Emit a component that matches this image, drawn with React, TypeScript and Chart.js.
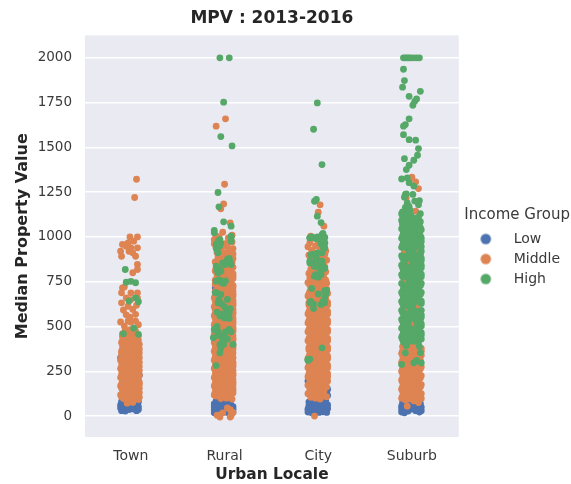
import React, { useEffect, useRef } from "react";
import { Chart, registerables } from "chart.js";

Chart.register(...registerables);

const categories = ["Town", "Rural", "City", "Suburb"];
const yTicks = [0, 250, 500, 750, 1000, 1250, 1500, 1750, 2000];
const FONT = "'DejaVu Sans', sans-serif";

// Each point: [horizontal jitter in hundredths of a category, median property value]
const townLow = [[-10,30],[-6,28],[-2,36],[2,40],[6,30],[8,36],[-11,45],[-8,50],[-4,52],[1,55],[5,50],[8,52],[-11,62],[-7,68],[-3,66],[3,70],[7,66],[-10,80],[-6,85],[5,82],[8,80],[-2,163],[-11,325],[9,228]];
const townMiddle = [[-4,72],[-1,80],[2,76],[-8,98],[-3,95],[3,100],[8,92],[-11,118],[-5,122],[1,115],[6,120],[-8,145],[-2,140],[4,148],[8,142],[-11,168],[-5,165],[1,172],[6,166],[-8,192],[-2,190],[4,195],[9,188],[-11,215],[-5,220],[1,212],[6,218],[-8,242],[-2,238],[4,245],[8,240],[-11,265],[-5,268],[1,262],[6,270],[-8,290],[-2,288],[4,295],[8,288],[-11,312],[-5,318],[1,310],[6,315],[-8,340],[-2,335],[4,342],[8,338],[-10,362],[-5,365],[1,360],[6,368],[-8,388],[-2,385],[4,392],[8,385],[-10,410],[-5,415],[1,408],[6,412],[-8,435],[-2,432],[4,438],[7,432],[-9,458],[-4,462],[1,455],[6,460],[-6,478],[-1,482],[5,475],[-7,502],[8,510],[-3,530],[-11,525],[0,524],[5,530],[-5,565],[-1,552],[5,568],[-8,592],[2,595],[-3,613],[6,618],[-10,632],[-5,660],[0,650],[7,660],[-10,688],[0,688],[7,688],[-9,716],[-7,720],[7,818],[7,846],[2,800],[-10,892],[5,892],[-11,920],[-2,920],[2,911],[-9,958],[-3,967],[3,976],[-5,948],[0,939],[7,939],[-1,1000],[7,1000],[6,1322],[4,1220]];
const townMiddleFill = [[-10,108],[-2,106],[4,110],[9,105],[-9,132],[-4,130],[2,134],[9,130],[-10,156],[-5,154],[0,158],[9,155],[-10,180],[-4,178],[2,182],[9,176],[-9,204],[-3,202],[3,206],[8,204],[-10,230],[-4,228],[2,232],[9,228],[-10,254],[-3,252],[3,256],[9,254],[-10,278],[-4,278],[2,280],[9,276],[-10,302],[-3,302],[3,304],[9,300],[-10,328],[-4,326],[2,328],[9,326],[-10,350],[-3,352],[3,350],[9,352],[-9,376],[-4,374],[2,378],[9,374],[-9,398],[-3,400],[3,398],[9,400],[-9,422],[-4,424],[2,422],[8,424],[-9,446],[-3,448],[3,446],[8,448]];
const townHigh = [[-6,818],[-5,747],[0,752],[5,744],[-2,642],[5,660],[8,638],[3,490],[8,456],[-8,460]];

const ruralLow = [[-11,18],[-8,15],[-5,20],[-1,22],[3,20],[7,15],[9,22],[-11,35],[-7,38],[-3,42],[1,36],[5,40],[9,38],[-11,52],[-7,56],[-2,58],[3,55],[7,58],[9,52],[-11,68],[-7,72],[-3,74],[2,72],[6,70],[-9,85],[-4,82],[5,84],[-10,716],[7,334]];
const ruralMiddle = [[-5,-6],[6,-6],[-8,5],[7,3],[-2,18],[-5,5],[3,45],[6,35],[9,20],[-9,112],[-4,98],[2,100],[8,95],[-11,118],[-6,125],[0,120],[6,122],[-8,145],[-3,140],[3,148],[9,142],[-11,168],[-5,165],[1,172],[6,166],[-8,192],[-2,190],[4,195],[9,188],[-11,215],[-5,220],[1,212],[6,218],[-8,242],[-2,238],[4,245],[9,240],[-11,265],[-5,268],[1,262],[6,270],[-8,290],[-2,288],[4,295],[9,288],[-11,312],[-5,318],[1,310],[6,315],[-8,340],[-2,335],[4,342],[9,352],[-11,362],[-5,365],[1,360],[6,368],[-8,388],[-2,385],[4,392],[9,385],[-11,410],[-5,415],[1,408],[6,412],[-8,435],[-2,432],[4,438],[9,432],[-11,458],[-5,462],[1,455],[6,460],[-8,485],[-2,482],[4,488],[9,485],[-11,510],[-5,508],[1,512],[6,505],[-8,535],[-2,532],[4,538],[9,530],[-11,560],[-5,558],[1,562],[6,555],[-8,585],[-2,582],[4,588],[9,580],[-11,610],[-5,608],[1,612],[6,605],[-8,635],[-2,632],[4,638],[9,630],[-11,660],[-5,658],[1,662],[6,655],[-8,685],[-2,682],[4,688],[9,680],[-5,708],[1,712],[6,705],[-10,735],[-2,732],[4,738],[9,730],[-10,758],[-5,760],[1,762],[7,755],[-8,785],[-2,782],[4,788],[9,780],[-10,810],[-4,808],[2,812],[7,805],[-1,835],[4,838],[9,830],[-10,860],[2,862],[8,858],[-7,885],[-1,882],[4,888],[9,880],[-8,912],[1,910],[7,908],[-9,938],[-3,940],[3,945],[9,935],[-11,962],[-5,965],[8,972],[-9,985],[-2,1026],[-9,1004],[4,995],[8,1010],[6,1078],[-1,1184],[-4,1157],[0,1294],[1,1659],[-9,1618]];
const ruralMiddleFill = [[-10,132],[-4,130],[2,134],[9,128],[-10,156],[-4,154],[3,158],[9,156],[-10,180],[-3,178],[3,182],[9,176],[-10,204],[-3,202],[3,206],[9,204],[-10,230],[-4,228],[2,232],[9,228],[-10,254],[-3,252],[3,256],[9,254],[-10,278],[-4,278],[2,280],[9,276],[-10,302],[-3,302],[3,304],[9,300],[-10,328],[-4,326],[2,328],[9,326],[-10,350],[-3,352],[3,350],[7,356],[-10,376],[-4,374],[2,378],[9,374],[-10,398],[-3,400],[3,398],[9,400],[-10,422],[-4,424],[2,422],[9,424],[-10,446],[-3,448],[3,446],[9,448],[-10,472],[-4,470],[2,474],[9,472],[-10,496],[-3,498],[3,496],[9,498],[-10,520],[-4,522],[2,520],[9,518],[-10,546],[-3,548],[3,546],[9,546],[-10,572],[-4,570],[2,574],[9,570],[-10,596],[-3,598],[3,596],[9,596],[-10,622],[-4,620],[2,622],[9,618],[-10,646],[-3,648],[3,646],[9,646],[-10,672],[-4,670],[2,672],[9,668],[-10,696],[-3,698],[3,696],[9,696],[-7,722],[-3,720],[3,722],[9,718],[-7,748],[4,750],[-6,772],[3,770],[9,768],[-8,798],[-2,796],[4,800],[9,795],[-9,825],[-5,828],[6,822],[-6,848],[-3,852],[5,850],[-4,872],[5,872],[-5,900],[4,898],[9,905],[-5,925],[5,922],[0,960],[3,968],[-6,1000],[-11,985]];
const ruralHigh = [[-5,2000],[5,2000],[-1,1752],[-4,1560],[8,1508],[-7,1248],[-6,1168],[-1,1084],[-11,1036],[7,1060],[7,1004],[-5,985],[-11,1023],[7,1000],[-9,958],[-4,967],[7,976],[-7,911],[4,874],[-2,855],[7,846],[-9,837],[-4,809],[-9,753],[-2,753],[-10,688],[-4,679],[3,651],[-7,632],[5,576],[0,548],[-5,558],[-11,483],[-7,474],[5,483],[-12,437],[0,437],[-5,400],[9,400],[-5,353],[-9,282],[-9,940],[-7,975],[-5,950],[-8,925],[3,875],[6,860],[0,845],[5,880],[-8,815],[-7,800],[-6,820],[-6,760],[-3,745],[-1,740],[1,755],[-9,690],[-6,650],[-3,625],[0,610],[3,590],[6,600],[-8,580],[-2,570],[2,560],[5,545],[-10,480],[-8,500],[-7,450],[-4,450],[-2,420],[3,430],[-1,400],[-4,380],[1,470],[7,470]];

const cityLow = [[-11,22],[-7,18],[-3,24],[1,20],[5,24],[9,20],[-11,38],[-6,42],[-2,38],[3,42],[7,38],[10,42],[-10,58],[-6,62],[-1,58],[4,60],[8,58],[10,62],[-10,78],[-5,82],[0,78],[4,80],[8,85],[7,102],[10,115],[10,150],[-11,195],[6,95],[9,135]];
const cityMiddle = [[-4,0],[-8,105],[-3,100],[2,95],[-11,125],[-6,122],[0,118],[-3,145],[3,135],[-9,148],[-6,170],[-11,172],[0,165],[5,160],[-3,195],[3,190],[8,185],[-9,198],[-11,220],[-6,222],[0,218],[6,215],[10,220],[-9,248],[-3,245],[3,242],[8,245],[-11,270],[-6,268],[0,272],[6,265],[10,270],[-9,295],[-3,292],[3,298],[8,292],[-11,320],[-6,318],[0,322],[6,315],[10,320],[-9,345],[-3,342],[3,348],[8,342],[-10,370],[-6,368],[0,372],[6,365],[10,370],[-9,395],[-3,392],[3,398],[8,392],[-11,420],[-6,418],[0,422],[6,415],[10,420],[-9,445],[-3,442],[3,448],[8,442],[-11,470],[-6,468],[0,472],[6,465],[10,470],[-9,495],[-3,492],[3,498],[8,492],[-11,520],[-6,518],[0,522],[6,515],[10,520],[-9,545],[-3,542],[3,548],[8,542],[-11,570],[-6,568],[0,572],[6,565],[10,570],[-9,595],[-3,592],[3,598],[8,592],[-10,620],[-6,618],[0,622],[6,615],[10,620],[-9,645],[-3,642],[3,648],[8,642],[-11,670],[-5,668],[1,672],[7,665],[-9,695],[-3,692],[3,698],[9,692],[-6,718],[0,722],[7,715],[-11,745],[-3,742],[3,748],[9,742],[-9,770],[-1,768],[6,772],[-10,796],[-4,792],[3,798],[8,805],[-8,820],[0,815],[7,832],[-5,852],[3,848],[-8,875],[0,878],[9,870],[-10,898],[-2,902],[5,895],[-7,925],[2,928],[8,922],[-11,945],[-3,950],[5,948],[-9,968],[0,972],[7,965],[-8,1004],[4,1004],[2,1179],[0,1138],[6,1060]];
const cityMiddleFill = [[5,112],[9,108],[-7,110],[-1,112],[-8,135],[0,140],[6,138],[9,162],[2,152],[-2,168],[-7,185],[0,182],[5,178],[10,195],[-8,208],[-3,208],[3,205],[8,205],[-10,235],[-5,232],[0,232],[6,230],[10,236],[-8,258],[-2,258],[3,256],[8,258],[-10,282],[-5,282],[0,284],[6,280],[10,284],[-8,308],[-3,306],[3,308],[8,306],[-10,332],[-5,332],[0,334],[6,330],[10,334],[-8,358],[-3,356],[3,358],[8,356],[-10,382],[-5,382],[0,384],[6,380],[10,384],[-8,408],[-3,406],[3,408],[8,406],[-10,432],[-5,432],[0,434],[6,430],[10,434],[-8,458],[-3,456],[3,458],[8,456],[-10,482],[-5,482],[0,484],[6,480],[10,484],[-8,508],[-3,506],[3,508],[8,506],[-10,532],[-5,532],[0,534],[6,530],[10,534],[-8,558],[-3,556],[3,558],[8,556],[-10,582],[-5,582],[0,584],[6,580],[10,584],[-8,608],[-3,606],[3,608],[8,606],[-10,632],[-5,632],[0,634],[6,630],[10,634],[-8,658],[-3,656],[3,658],[8,656],[-10,682],[-5,682],[0,684],[6,680],[10,684],[-8,708],[-3,706],[3,708],[9,708],[-9,732],[-5,730],[1,734],[6,730],[-6,758],[2,758],[8,758],[-7,782],[-2,780],[4,784],[-6,808],[1,806],[3,825],[-3,838],[6,858],[-4,885],[3,880],[-5,912],[7,902]];
const cityHigh = [[-1,1748],[-5,1601],[4,1404],[-2,1209],[-4,1199],[-1,1116],[3,1080],[5,1019],[-9,995],[-3,991],[1,985],[-9,995],[-4,995],[4,1013],[7,997],[7,967],[7,939],[-1,911],[-6,902],[4,911],[-9,865],[4,865],[-9,855],[5,837],[7,825],[-3,790],[3,790],[-7,712],[0,682],[9,701],[7,632],[3,623],[-9,632],[-5,600],[4,381],[-11,316],[-9,318],[-11,310],[-7,1000],[-1,1000],[3,960],[5,945],[-2,880],[0,868],[2,860],[-8,900],[-6,855],[-4,835],[0,830],[3,810],[-4,780],[0,775],[7,700],[8,680],[5,640],[-8,640],[-5,625],[7,660]];

const suburbLow = [[-11,22],[-8,18],[-4,28],[0,40],[4,30],[8,22],[10,30],[-11,40],[-8,35],[-5,45],[-2,62],[2,58],[6,55],[10,50],[-11,55],[-8,55],[-6,72],[-10,75],[-9,124],[1,45],[-3,82],[9,70],[5,95]];
const suburbMiddle = [[-5,55],[-7,90],[-3,95],[2,85],[7,75],[-11,100],[-5,112],[2,108],[8,100],[10,98],[-8,125],[-2,128],[4,130],[10,125],[-11,150],[-5,152],[1,148],[7,155],[-8,175],[-2,178],[4,172],[10,175],[-11,200],[-5,202],[1,198],[7,205],[-8,225],[-2,228],[4,222],[10,225],[-11,250],[-5,252],[1,248],[7,255],[-8,275],[-2,278],[4,272],[10,275],[-11,300],[-5,302],[1,298],[7,305],[-8,325],[-2,328],[4,322],[10,340],[-11,350],[-5,352],[1,348],[7,345],[-8,375],[-2,378],[4,372],[-6,400],[0,402],[5,398],[-3,422],[3,420],[-8,920],[6,920],[-4,850],[-8,744],[-5,590],[5,610],[1,510],[-8,750],[-5,455],[0,470],[0,1333],[4,1307],[7,1270],[-6,1218],[4,1144]];
const suburbMiddleFill = [[-10,112],[-2,110],[5,114],[-10,138],[-5,136],[1,134],[7,138],[-10,162],[-4,164],[3,160],[9,162],[-10,188],[-5,186],[1,188],[7,190],[-10,212],[-4,214],[3,210],[9,212],[-10,238],[-5,238],[1,236],[7,240],[-10,262],[-4,264],[3,260],[9,262],[-10,288],[-5,288],[1,286],[7,290],[-10,312],[-4,314],[3,310],[9,312],[-10,338],[-5,338],[1,336],[7,330],[-10,364],[-4,364],[3,360],[10,362],[-10,388],[-3,390],[3,386],[10,378]];
const suburbHigh = [[-9,2000],[-7,2000],[-5,2000],[-3,2000],[-1,2000],[2,2000],[5,2000],[8,2000],[-9,1936],[-8,1873],[-10,1836],[9,1813],[-3,1785],[5,1770],[3,1757],[1,1735],[-3,1659],[-7,1627],[-9,1618],[-9,1571],[-3,1543],[4,1540],[7,1493],[6,1456],[2,1428],[-8,1437],[-3,1400],[-6,1376],[-11,1324],[-5,1330],[-3,1303],[2,1284],[-7,1237],[-8,1222],[1,1237],[8,1203],[-6,1240],[3,1200],[-5,1190],[7,1180],[-7,1165],[-3,1170],[-10,1140],[-6,1140],[-2,1150],[9,1130],[-10,1118],[-6,1115],[-1,1120],[3,1105],[7,1110],[-11,1092],[-7,1090],[-3,1095],[1,1085],[5,1090],[9,1085],[-10,1068],[-6,1065],[-2,1070],[3,1062],[8,1060],[-11,1045],[-7,1040],[-3,1045],[1,1040],[6,1035],[10,1040],[-9,1018],[-4,1015],[2,1015],[8,1018],[-11,992],[-6,990],[-1,992],[5,988],[10,994],[-9,968],[-3,965],[2,968],[7,965],[-11,942],[-6,940],[0,945],[3,940],[10,945],[-3,918],[1,915],[10,920],[-11,895],[-6,892],[-1,895],[3,890],[9,895],[-8,868],[0,870],[4,865],[10,868],[-11,842],[-7,840],[0,838],[5,835],[10,842],[-9,815],[-4,812],[2,815],[7,812],[-11,790],[-7,788],[-1,790],[4,788],[10,792],[-3,765],[2,762],[7,768],[-11,740],[-3,738],[0,742],[5,738],[10,740],[-9,715],[-4,712],[2,715],[7,712],[-11,690],[-7,688],[-1,692],[4,690],[10,690],[-9,665],[-3,662],[2,665],[7,668],[-11,640],[-6,638],[-1,642],[4,640],[10,642],[-9,615],[-3,612],[1,618],[-11,590],[-8,575],[-1,592],[4,585],[10,590],[-6,565],[1,568],[6,565],[10,565],[-11,540],[-7,538],[-2,542],[4,538],[8,542],[-9,515],[-4,512],[6,515],[10,515],[-11,490],[-6,488],[-1,485],[3,488],[8,490],[-9,465],[-3,462],[5,465],[10,465],[-11,440],[-7,438],[0,440],[4,442],[8,438],[-9,412],[-4,415],[2,418],[7,412],[-7,353],[9,353],[2,297],[-11,288],[10,297],[5,310],[-6,392],[8,388]];
const suburbHighFill = [[-11,1130],[-3,1130],[1,1100],[-4,1080],[-10,1078],[7,1078],[-9,1055],[-4,1056],[1,1052],[5,1060],[9,1052],[-9,1030],[-5,1028],[-1,1028],[4,1028],[8,1030],[-10,1005],[-6,1004],[0,1004],[5,1002],[9,1006],[-9,980],[-3,978],[2,980],[8,978],[10,975],[-10,955],[-5,954],[-1,956],[4,954],[8,955],[-1,930],[-2,906],[2,905],[9,908],[-10,882],[-6,880],[0,882],[5,880],[10,882],[-9,855],[4,862],[8,855],[-10,828],[-6,828],[0,826],[5,826],[10,828],[-9,802],[-4,800],[2,802],[7,800],[-10,778],[-5,776],[0,778],[5,776],[10,778],[-2,752],[3,750],[8,752],[-5,728],[0,726],[5,728],[9,728],[-9,702],[-4,702],[2,702],[7,702],[-10,678],[-6,676],[0,678],[5,676],[9,678],[-9,652],[-4,652],[1,652],[7,652],[-10,628],[-6,626],[0,628],[10,628],[0,604],[-10,578],[0,580],[5,578],[9,578],[-9,552],[-4,552],[1,552],[6,552],[10,552],[-10,528],[-6,526],[5,528],[9,528],[-9,502],[-4,500],[10,502],[-9,478],[-5,476],[0,472],[4,476],[8,476],[-10,452],[-6,450],[0,452],[4,452],[10,452],[-10,428],[-4,428],[2,430],[6,428],[10,430]];

const colors = ["#4C72B0", "#DD8452", "#55A868"];
const incomeGroups = ["Low", "Middle", "High"];
const seriesByIncome = [
  [townLow, ruralLow, cityLow, suburbLow],
  [
    [...townMiddle, ...townMiddleFill],
    [...ruralMiddle, ...ruralMiddleFill],
    [...cityMiddle, ...cityMiddleFill],
    [...suburbMiddle, ...suburbMiddleFill],
  ],
  [townHigh, ruralHigh, cityHigh, [...suburbHigh, ...suburbHighFill]],
];

const dot = (color: string) => {
  const c = document.createElement("canvas");
  c.width = 13;
  c.height = 13;
  const g = c.getContext("2d")!;
  g.fillStyle = color;
  g.beginPath();
  g.arc(6.5, 6.5, 5.2, 0, Math.PI * 2);
  g.fill();
  return c;
};

const plotBackground = {
  id: "plotBackground",
  beforeDraw(chart: any) {
    const { ctx, chartArea: a } = chart;
    ctx.save();
    ctx.fillStyle = "#EAEAF2";
    ctx.fillRect(a.left, a.top, a.right - a.left, a.bottom - a.top);
    ctx.restore();
  },
};

export default function App() {
  const ref = useRef<HTMLCanvasElement>(null);
  useEffect(() => {
    const markers = colors.map(dot);
    const chart = new Chart(ref.current!, {
      type: "scatter",
      data: {
        datasets: incomeGroups.map((label, s) => ({
          label,
          order: 3 - s,
          backgroundColor: colors[s],
          borderWidth: 0,
          pointRadius: 3.4,
          data: seriesByIncome[s].flatMap((rows, c) =>
            rows.map(([j, v]) => ({ x: c + j / 100, y: v }))
          ),
        })),
      },
      options: {
        responsive: false,
        animation: false,
        layout: { padding: { top: 8, right: 1, bottom: 0, left: 13 } },
        scales: {
          x: {
            type: "linear",
            min: -0.49,
            max: 3.5,
            afterBuildTicks: (s: any) => {
              s.ticks = categories.map((_, i) => ({ value: i }));
            },
            afterFit: (s: any) => {
              s.height = 47;
            },
            grid: { display: false },
            border: { display: false },
            ticks: {
              color: "#3a3a3a",
              font: { family: FONT, size: 14 },
              padding: 3,
              maxRotation: 0,
              callback: (v: any) => categories[v],
            },
            title: {
              display: true,
              text: "Urban Locale",
              color: "#262626",
              padding: { top: 0, bottom: 0 },
              font: { family: FONT, size: 15.4, weight: "bold" },
            },
          },
          y: {
            min: -117,
            max: 2125,
            afterBuildTicks: (s: any) => {
              s.ticks = yTicks.map((value) => ({ value }));
            },
            afterFit: (s: any) => {
              s.width = 72;
            },
            grid: { color: "#FFFFFF", lineWidth: 1.5, drawTicks: false },
            border: { display: false },
            ticks: {
              color: "#3a3a3a",
              font: { family: FONT, size: 13.5 },
              padding: 13,
              callback: (v: any) => String(v),
            },
            title: {
              display: true,
              text: "Median Property Value",
              color: "#262626",
              padding: { top: 0, bottom: 0 },
              font: { family: FONT, size: 16, weight: "bold" },
            },
          },
        },
        plugins: {
          tooltip: { enabled: false },
          title: {
            display: true,
            text: "MPV : 2013-2016",
            color: "#262626",
            fullSize: false,
            padding: { top: 0, bottom: 7 },
            font: { family: FONT, size: 17, weight: "bold" },
          },
          legend: {
            position: "right",
            align: "center",
            title: {
              display: true,
              text: "Income Group",
              color: "#3a3a3a",
              position: "end",
              padding: { top: 8, bottom: 0 },
              font: { family: FONT, size: 15 },
            },
            labels: {
              usePointStyle: true,
              pointStyleWidth: 42,
              padding: 6,
              color: "#3a3a3a",
              font: { family: FONT, size: 14 },
              sort: (a: any, b: any) => a.datasetIndex - b.datasetIndex,
              generateLabels: (c: any) =>
                Chart.defaults.plugins.legend.labels
                  .generateLabels(c)
                  .map((l: any) => ({ ...l, pointStyle: markers[l.datasetIndex] })),
            },
          },
        },
      } as any,
      plugins: [plotBackground],
    });
    return () => chart.destroy();
  }, []);
  return (
    <div style={{ position: "fixed", left: 0, top: 0, width: 571, height: 484, background: "#fff" }}>
      <canvas ref={ref} width={571} height={484} style={{ display: "block", filter: "blur(0.5px)" }} />
    </div>
  );
}
